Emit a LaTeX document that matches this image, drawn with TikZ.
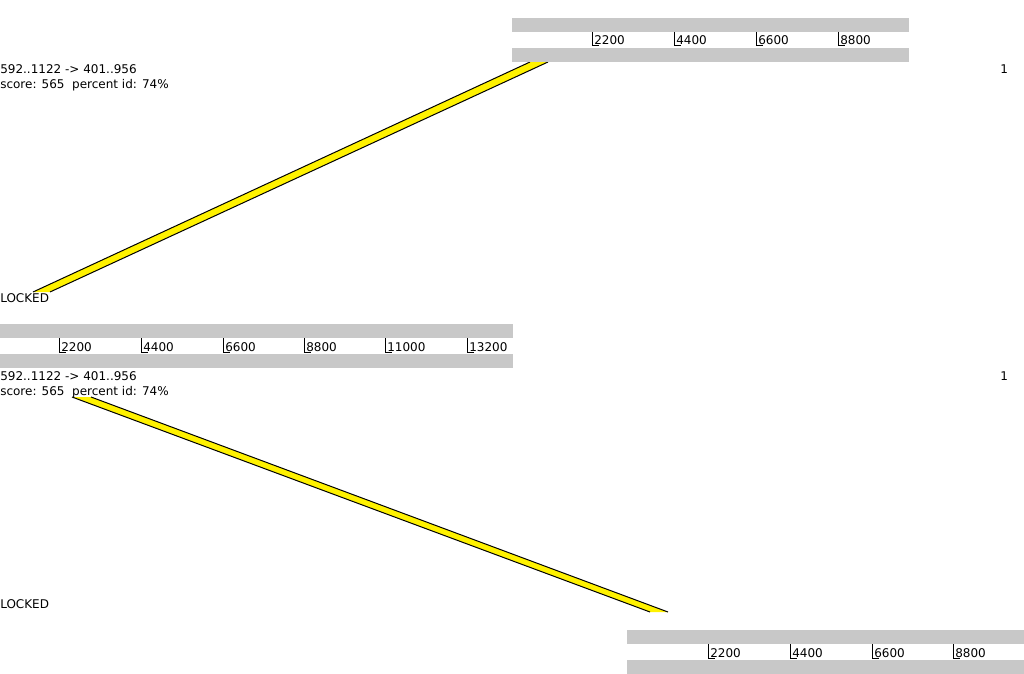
\documentclass[tikz,border=0pt]{standalone}
\usepackage{fontspec}
\setmainfont{DejaVu Sans}
\definecolor{rulergray}{RGB}{200,200,200}
\tikzset{
  ticklabel/.style={anchor=base west, inner sep=0pt},
  infotext/.style={anchor=base west, inner sep=0pt},
  tickmark/.style={line width=0.75pt},
  hitband/.style={fill=yellow},
  hitedge/.style={line width=0.75pt}
}

\begin{document}
\begin{tikzpicture}[x=0.75pt, y=-0.75pt, font=\fontsize{9}{10}\selectfont]
    \useasboundingbox (0,0) rectangle (1024,674);

    % band corners
    \coordinate (P1) at (33,292);
    \coordinate (P2) at (530,62);
    \coordinate (P3) at (548,62);
    \coordinate (P4) at (50,292);
    \coordinate (Q1) at (72,397);
    \coordinate (Q2) at (91,397);
    \coordinate (Q3) at (668,612);
    \coordinate (Q4) at (650,612);

    \fill[hitband] (P1) -- (P2) -- (P3) -- (P4) -- cycle;
    \draw[hitedge] (P1) -- (P2);
    \draw[hitedge] (P4) -- (P3);
    \fill[hitband] (Q1) -- (Q2) -- (Q3) -- (Q4) -- cycle;
    \draw[hitedge] (Q1) -- (Q4);
    \draw[hitedge] (Q2) -- (Q3);

    % top ruler
    \fill[rulergray] (512,18) rectangle (909,32);
    \fill[rulergray] (512,48) rectangle (909,62);
    \draw[tickmark] (592,32) -- (592,46) -- (599,46);
    \draw[tickmark] (674,32) -- (674,46) -- (681,46);
    \draw[tickmark] (756,32) -- (756,46) -- (763,46);
    \draw[tickmark] (838,32) -- (838,46) -- (845,46);
    \node[ticklabel] (ta1) at (594,45) {2200};
    \node[ticklabel] (ta2) at (676,45) {4400};
    \node[ticklabel] (ta3) at (758,45) {6600};
    \node[ticklabel] (ta4) at (840,45) {8800};

    % middle ruler
    \fill[rulergray] (0,324) rectangle (513,338);
    \fill[rulergray] (0,354) rectangle (513,368);
    \draw[tickmark] (59,338) -- (59,352) -- (66,352);
    \draw[tickmark] (141,338) -- (141,352) -- (148,352);
    \draw[tickmark] (223,338) -- (223,352) -- (230,352);
    \draw[tickmark] (304,338) -- (304,352) -- (311,352);
    \draw[tickmark] (385,338) -- (385,352) -- (392,352);
    \draw[tickmark] (467,338) -- (467,352) -- (474,352);
    \node[ticklabel] (tb1) at (61,351) {2200};
    \node[ticklabel] (tb2) at (143,351) {4400};
    \node[ticklabel] (tb3) at (225,351) {6600};
    \node[ticklabel] (tb4) at (306,351) {8800};
    \node[ticklabel] (tb5) at (387,351) {11000};
    \node[ticklabel] (tb6) at (469,351) {13200};

    % bottom ruler
    \fill[rulergray] (627,630) rectangle (1024,644);
    \fill[rulergray] (627,660) rectangle (1024,674);
    \draw[tickmark] (708,644) -- (708,658) -- (715,658);
    \draw[tickmark] (790,644) -- (790,658) -- (797,658);
    \draw[tickmark] (872,644) -- (872,658) -- (879,658);
    \draw[tickmark] (953,644) -- (953,658) -- (960,658);
    \node[ticklabel] (tc1) at (710,657) {2200};
    \node[ticklabel] (tc2) at (792,657) {4400};
    \node[ticklabel] (tc3) at (874,657) {6600};
    \node[ticklabel] (tc4) at (955,657) {8800};

    % hit texts
    \node[infotext] (rangeA) at (0,74) {592..1122 -> 401..956};
    \node[infotext] (scoreA) at (0,89) {score: 565\ \ percent id: 74\%};
    \node[infotext] (countA) at (1000,74) {1};
    \node[infotext] (lockA) at (0,302) {LOCKED};
    \node[infotext] (rangeB) at (0,380) {592..1122 -> 401..956};
    \node[infotext] (scoreB) at (0,395) {score: 565\ \ percent id: 74\%};
    \node[infotext] (countB) at (1000,380) {1};
    \node[infotext] (lockB) at (0,608) {LOCKED};
\end{tikzpicture}
\end{document}
